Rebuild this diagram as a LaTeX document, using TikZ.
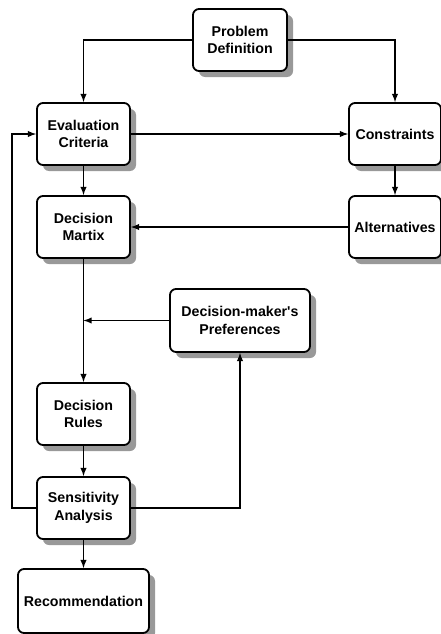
\documentclass[tikz,border=0pt]{standalone}
\usepackage{fontspec}
\setmainfont{Liberation Sans}
\usetikzlibrary{shadows}
\tikzset{
	stage/.style={draw=black,line width=1.8pt,rounded corners=6pt,fill=white,align=center,
		minimum width=93pt,minimum height=62pt,inner sep=2pt,
		drop shadow={shadow xshift=6pt,shadow yshift=-6pt,fill=black!40,opacity=1}},
	flow/.style={->,line width=1.8pt}
}
\begin{document}
\begin{tikzpicture}[>=latex,x=1pt,y=-1pt,font=\fontsize{14.2}{17.5}\selectfont\bfseries]
		\useasboundingbox (0,0) rectangle (441,634);
		\node [stage,minimum width=94pt] (prob) at (240,40) {Problem\\Definition};
		\node [stage] (eval) at (83.5,134) {Evaluation\\Criteria};
		\node [stage,minimum width=92pt] (cons) at (395,134) {Constraints};
		\node [stage] (martix) at (83.5,227) {Decision\\Martix};
		\node [stage,minimum width=92pt] (alt) at (395,227) {Alternatives};
		\node [stage,minimum width=140pt,minimum height=63pt] (pref) at (240,320.5) {Decision-maker\textquotesingle s\\Preferences};
		\node [stage] (rules) at (83.5,414) {Decision\\Rules};
		\node [stage] (sens) at (83.5,508) {Sensitivity\\Analysis};
		\node [stage,minimum width=131pt,minimum height=64pt] (rec) at (83.5,601) {Recommendation};
		\draw [flow] (prob.west) -| (eval.north);
		\draw [flow] (prob.east) -| (cons.north);
		\draw [flow] (eval) -- (cons);
		\draw [flow] (eval) -- (martix);
		\draw [flow] (cons) -- (alt);
		\draw [flow] (alt) -- (martix);
		\draw [flow] (martix) -- (rules);
		\draw [flow] (pref.west) -- (pref.west -| martix.south);
		\draw [flow] (rules) -- (sens);
		\draw [flow] (sens.west) -- ++(-24,0) |- (eval.west);
		\draw [flow] (sens.east) -| (pref.south);
		\draw [flow] (sens) -- (rec);
	\end{tikzpicture}
\end{document}
